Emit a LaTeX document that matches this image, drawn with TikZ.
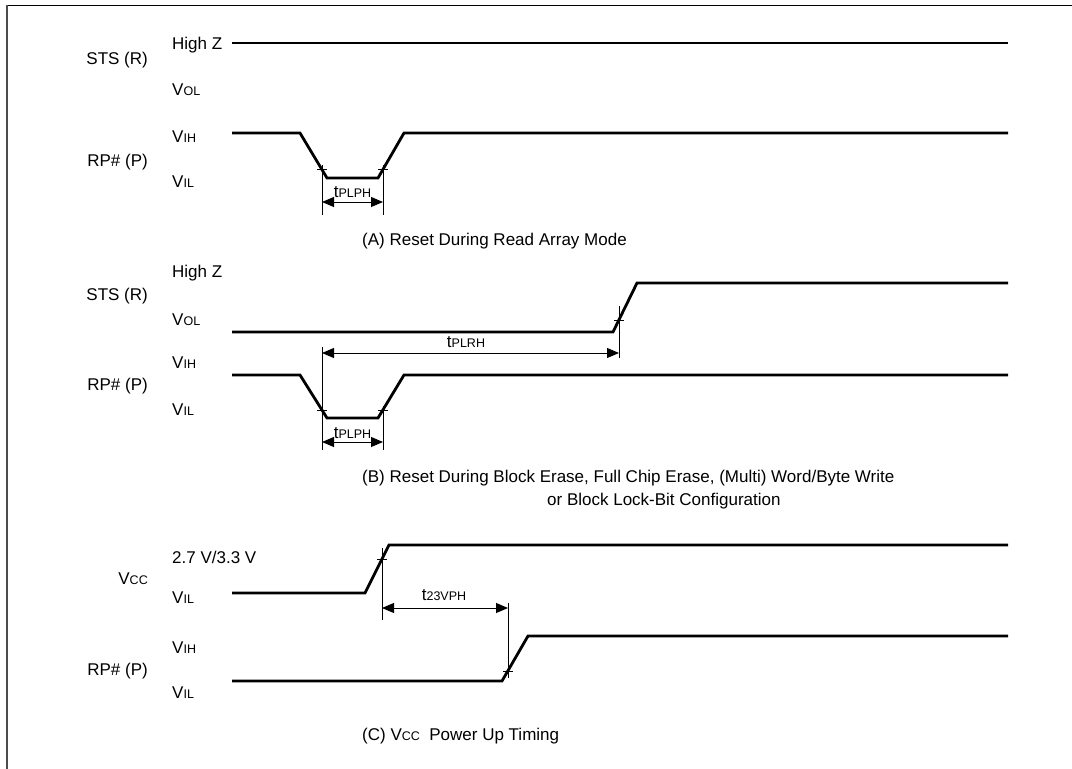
\documentclass[tikz,border=0pt]{standalone}
\usepackage{fontspec}
\setmainfont{Liberation Sans}
\usetikzlibrary{arrows.meta}
\newcommand{\subtxt}[1]{{\fontsize{12.5}{14}\selectfont #1}}

\begin{document}
\begin{tikzpicture}[x=1pt, y=-1pt,
    wave/.style={line width=2.8pt},
    dimline/.style={line width=0.9pt},
    dimarrow/.style={line width=0.9pt, {Triangle[length=12pt,width=10pt]}-{Triangle[length=12pt,width=10pt]}},
    lvl/.style={anchor=base west, inner sep=0pt, font=\fontsize{17}{20}\selectfont},
    sig/.style={anchor=base east, inner sep=0pt, font=\fontsize{17}{20}\selectfont},
    tim/.style={anchor=base, inner sep=0pt, font=\fontsize{17}{20}\selectfont},
    captxt/.style={anchor=base west, inner sep=0pt, font=\fontsize{17}{20}\selectfont}]

    \useasboundingbox (0,0) rectangle (1072,769);
    % frame
    \draw[line width=1pt] (7,5) -- (1072,5);
    \draw[gray!60!black, line width=2pt] (7,5) -- (7,769);

    % (A) read array mode
    \node[lvl] (hzA) at (172,49) {High Z};
    \node[sig] (stsA) at (148,64) {STS (R)};
    \node[lvl] (volA) at (172,95) {V\subtxt{OL}};
    \node[lvl] (vihA) at (172,142) {V\subtxt{IH}};
    \node[sig] (rpA) at (148,166) {RP\# (P)};
    \node[lvl] (vilA) at (172,187) {V\subtxt{IL}};
    \draw[wave] (232,43) -- (1008,43);
    \draw[wave] (232,133) -- (300,133) -- (327,178) -- (378,178) -- (404,133) -- (1008,133);
    \coordinate (fA) at (322,169);
    \coordinate (rA) at (383,169);
    \draw[dimline] (fA) ++(0,-4) -- ++(0,50);
    \draw[dimline] (rA) ++(0,-4) -- ++(0,50);
    \draw[dimline] (fA) ++(-5,0) -- ++(10,0);
    \draw[dimline] (rA) ++(-5,0) -- ++(10,0);
    \draw[dimarrow] (fA |- 0,202) -- (rA |- 0,202);
    \node[tim] (tA) at (352.5,197) {t\subtxt{PLPH}};
    \node[captxt] (capA) at (362,245) {(A) Reset During Read Array Mode};

    % (B) reset during erase / write
    \node[lvl] (hzB) at (172,277) {High Z};
    \node[sig] (stsB) at (148,300) {STS (R)};
    \node[lvl] (volB) at (172,325) {V\subtxt{OL}};
    \node[lvl] (vihB) at (172,368) {V\subtxt{IH}};
    \node[sig] (rpB) at (148,390) {RP\# (P)};
    \node[lvl] (vilB) at (172,415) {V\subtxt{IL}};
    \draw[wave] (232,332) -- (613,332) -- (637,283) -- (1008,283);
    \draw[wave] (232,375) -- (300,375) -- (327,418) -- (378,418) -- (404,375) -- (1008,375);
    \coordinate (fB) at (322,410);
    \coordinate (rB) at (383,410);
    \coordinate (sB) at (619,320);
    \draw[dimline] (fB) ++(0,-63) -- ++(0,103);
    \draw[dimline] (rB) ++(0,-4) -- ++(0,44);
    \draw[dimline] (sB) ++(0,-14) -- ++(0,52);
    \draw[dimline] (fB) ++(-5,0) -- ++(10,0);
    \draw[dimline] (rB) ++(-5,0) -- ++(10,0);
    \draw[dimline] (sB) ++(-5,0) -- ++(10,0);
    \draw[dimarrow] (fB |- 0,353) -- (sB |- 0,353);
    \node[tim] (tB1) at (466,347) {t\subtxt{PLRH}};
    \draw[dimarrow] (fB |- 0,442) -- (rB |- 0,442);
    \node[tim] (tB2) at (352.5,438) {t\subtxt{PLPH}};
    \node[captxt] (capB1) at (362,482) {(B) Reset During Block Erase, Full Chip Erase, (Multi) Word/Byte Write};
    \node[captxt] (capB2) at (547,505) {or Block Lock-Bit Configuration};

    % (C) power up
    \node[lvl] (vhC) at (172,563) {2.7 V/3.3 V};
    \node[sig] (vccC) at (148,584) {V\subtxt{CC}};
    \node[lvl] (vilC) at (172,603) {V\subtxt{IL}};
    \node[lvl] (vihC) at (172,653) {V\subtxt{IH}};
    \node[sig] (rpC) at (148,675) {RP\# (P)};
    \node[lvl] (vilD) at (172,698) {V\subtxt{IL}};
    \draw[wave] (232,593) -- (365,593) -- (389,545) -- (1008,545);
    \draw[wave] (232,681) -- (502,681) -- (528,636) -- (1008,636);
    \coordinate (vC) at (382,559);
    \coordinate (pC) at (508,671);
    \draw[dimline] (vC) ++(0,-11) -- ++(0,72);
    \draw[dimline] (pC) ++(0,-68) -- ++(0,75);
    \draw[dimline] (vC) ++(-5,0) -- ++(10,0);
    \draw[dimline] (pC) ++(-5,0) -- ++(10,0);
    \draw[dimarrow] (vC |- 0,608) -- (pC |- 0,608);
    \node[tim] (tC) at (444,600) {t\subtxt{23VPH}};
    \node[captxt] (capC) at (362,740) {(C) V\subtxt{CC}\ \ Power Up Timing};
\end{tikzpicture}
\end{document}
